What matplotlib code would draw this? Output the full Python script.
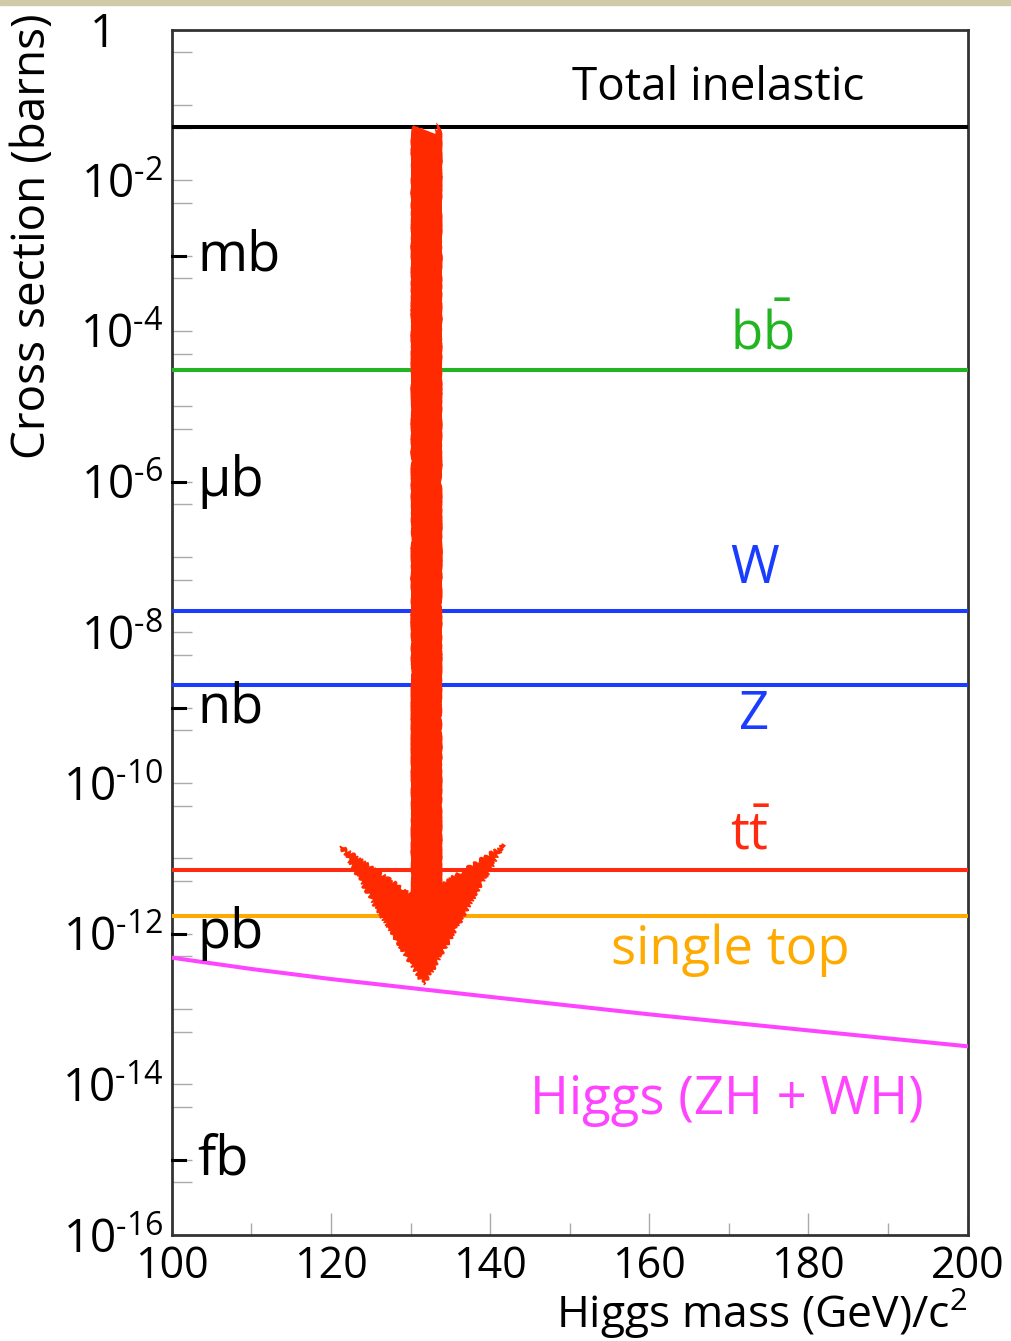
import numpy as np
import matplotlib
matplotlib.use("Agg")
import matplotlib.pyplot as plt
from matplotlib.patches import Polygon, Rectangle
from matplotlib.ticker import NullFormatter

# ---- 数据 ----
# 水平截面 (barns)
proc_names = ["Total inelastic", "bb", "W", "Z", "tt", "single top"]
proc_xsec = [5.1e-2, 3.0e-5, 1.9e-8, 2.0e-9, 7.0e-12, 1.7e-12]
proc_colors = ["black", "#22b422", "#1a3cff", "#1a3cff", "#ff2a10", "#ffaa00"]

# Higgs (ZH + WH) vs mass
higgs_mass = [100, 110, 120, 132, 140, 160, 180, 200]
higgs_xsec = [4.8e-13, 3.4e-13, 2.5e-13, 1.8e-13, 1.45e-13, 8.5e-14, 5.2e-14, 3.2e-14]

# 单位刻度
unit_vals = [1e-3, 1e-6, 1e-9, 1e-12, 1e-15]
unit_names = ["mb", "μb", "nb", "pb", "fb"]

# 标签位置 (x, decade)
label_text = ["Total inelastic", r"b$\bar{\mathrm{b}}$", "W", "Z",
              r"t$\bar{\mathrm{t}}$", "single top", "Higgs (ZH + WH)"]
label_x = [168.6, 174.1, 173.2, 173.2, 172.6, 170.2, 169.8]
label_dec = [0.77, 4.05, 7.17, 9.10, 10.70, 12.22, 14.21]
label_size = [33, 38, 38, 38, 38, 38, 38]
label_colors = ["black", "#22b422", "#1a3cff", "#1a3cff", "#ff2a10", "#ffaa00", "#ff44ff"]

# 手绘箭头
arrow_shaft_x = [132.0, 132.0]
arrow_shaft_dec = [1.33, 11.6]
arrow_head_x = [121.2, 130.2, 133.9, 141.8, 137.4, 131.7, 125.5]
arrow_head_dec = [10.84, 11.49, 11.35, 10.82, 11.62, 12.68, 11.62]

ytick_vals = [10.0 ** (-k) for k in range(0, 17, 2)]
ytick_labels = ["1    "] + [r"$10^{\mathrm{‐%d}}$" % k for k in range(2, 17, 2)]

# ---- 样式 ----
plt.rcParams["font.family"] = ["Open Sans", "DejaVu Sans"]
plt.rcParams["mathtext.fontset"] = "custom"
plt.rcParams["mathtext.rm"] = "Open Sans"
plt.rcParams["mathtext.it"] = "Open Sans:italic"
plt.rcParams["mathtext.default"] = "rm"

fig = plt.figure(figsize=(10.11, 13.41), dpi=100)
ax = fig.add_axes([0.170, 0.079, 0.787, 0.899])
fig.patches.append(Rectangle((0, 1 - 5 / 1341), 1, 5 / 1341, transform=fig.transFigure,
                             color="#cfcaa8", zorder=0))

ax.set_yscale("log")
ax.set_xlim(100, 200)
ax.set_ylim(1e-16, 1)

# 过程截面线
for name, xs, col in zip(proc_names, proc_xsec, proc_colors):
    ax.plot([100, 200], [xs, xs], color=col, lw=2.9, solid_capstyle="butt", zorder=3)
ax.plot(higgs_mass, higgs_xsec, color="#ff44ff", lw=2.9, zorder=3)

for txt, x, d, fs, col in zip(label_text, label_x, label_dec, label_size, label_colors):
    ax.text(x, 10.0 ** (-d), txt, color=col, fontsize=fs, ha="center", va="center", zorder=4)

# 单位标记
for v, n in zip(unit_vals, unit_names):
    ax.plot([100, 101.6], [v, v], color="black", lw=2.2, zorder=4, clip_on=False)
    ax.text(103.2, v, n, fontsize=39, ha="left", va="center", zorder=4)

# 箭头 (手绘风格)
shaft, = ax.plot(arrow_shaft_x, [10.0 ** (-d) for d in arrow_shaft_dec],
                 color="#ff2a00", lw=21, solid_capstyle="butt", zorder=5)
shaft.set_sketch_params(scale=1.5, length=6, randomness=4)
head = Polygon(list(zip(arrow_head_x, [10.0 ** (-d) for d in arrow_head_dec])),
               closed=True, color="#ff2a00", zorder=5)
head.set_sketch_params(scale=2, length=6, randomness=4)
ax.add_patch(head)

# 坐标轴
ax.set_yticks(ytick_vals)
ax.set_yticklabels(ytick_labels)
minor = []
for k in range(0, 17):
    minor.append(10.0 ** (-k))
    minor.append(0.5 * 10.0 ** (-k))
ax.set_yticks([m for m in minor if m >= 1e-16 and m not in ytick_vals], minor=True)
ax.yaxis.set_minor_formatter(NullFormatter())
ax.set_xticks([100, 120, 140, 160, 180, 200])
ax.set_xticks([110, 130, 150, 170, 190], minor=True)

ax.tick_params(axis="y", which="both", direction="in", length=14.5, width=1,
               color="#aaaaaa", labelsize=33, pad=6)
ax.tick_params(axis="x", which="major", direction="in", length=16, width=1,
               color="#aaaaaa", labelsize=31, pad=7)
ax.tick_params(axis="x", which="minor", direction="in", length=8.5, width=1,
               color="#aaaaaa")
for s in ax.spines.values():
    s.set_linewidth(2)
    s.set_color("#333333")

ax.set_xlabel("Higgs mass (GeV)/c$^2$", fontsize=32, loc="right", labelpad=-2)
ax.set_ylabel("Cross section (barns)", fontsize=33, loc="top")
ax.yaxis.set_label_coords(-0.145, 1.013)

fig.savefig("out.png", dpi=100)
